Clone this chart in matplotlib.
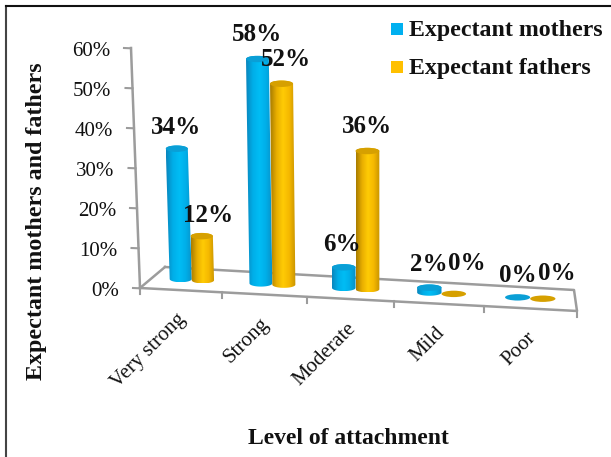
import numpy as np
import matplotlib
matplotlib.use('Agg')
from matplotlib import pyplot as plt
from matplotlib.path import Path
from matplotlib.patches import PathPatch, Ellipse
from matplotlib.colors import LinearSegmentedColormap

categories = ['Very strong', 'Strong', 'Moderate', 'Mild', 'Poor']
mothers = [34, 58, 6, 2, 0]
fathers = [12, 52, 36, 0, 0]
y_ticks = [0, 10, 20, 30, 40, 50, 60]

plt.rcParams['font.family'] = ['Liberation Serif', 'DejaVu Serif']

AXIS_GREY = '#9c9c9c'
TEXT_BLACK = '#111111'

blue_map = LinearSegmentedColormap.from_list('blue_bar', ['#0a86bd', '#00aee8', '#00bdf5', '#00aee8', '#0a8fc6'])
gold_map = LinearSegmentedColormap.from_list('gold_bar', ['#a87c00', '#e8ae00', '#ffcb05', '#f5b800', '#c79300'])


# Oblique view: the floor runs downhill to the right and verticals lean in on the left
def project(pos, pct, depth=0.0, scale=4.0):
    x_front = 140 + 80.65 * pos + 1.35 * pos ** 2
    x = x_front + depth * (25 - 5.6 * pos)
    y = 288 + (x_front - 140) * 0.0526 - depth * 21
    lean = 0.0375 * max(0, 1 - (x - 140) / 205)
    h = pct * scale
    return x - lean * h, y - h


# Bar tops sit a little under the nominal height, the rounded cap eats into it
def top_of_bar(pos, pct):
    return project(pos, pct - 0.75 if pct > 0 else 0, 0.5, 3.92)


def draw_cylinder(ax, pos, pct, cmap, top_color):
    half_w = 0.14
    x_l0, y_l0 = project(pos - half_w, 0, 0.5)
    x_r0, y_r0 = project(pos + half_w, 0, 0.5)
    x_c0, y_c0 = (x_l0 + x_r0) / 2, (y_l0 + y_r0) / 2
    width = x_r0 - x_l0
    x_ct, y_ct = top_of_bar(pos, pct)
    cap = 3.2

    if pct == 0:
        ax.add_patch(Ellipse((x_c0, y_c0), width, 2 * cap, color=top_color, lw=0, zorder=5 + pos))
        return

    theta = np.linspace(0, np.pi, 30)
    bottom_x = x_c0 - width / 2 * np.cos(theta)
    bottom_y = y_c0 + cap * np.sin(theta)
    top_x = x_ct + width / 2 * np.cos(theta)
    top_y = y_ct + cap * np.sin(-theta)
    outline = np.column_stack([np.r_[bottom_x, top_x], np.r_[bottom_y, top_y]])
    body = PathPatch(Path(outline, closed=False), fc='none', ec='none')
    ax.add_patch(body)

    gradient = np.linspace(0, 1, 64).reshape(1, -1)
    x0, x1 = outline[:, 0].min(), outline[:, 0].max()
    y0, y1 = outline[:, 1].min(), outline[:, 1].max()
    img = ax.imshow(gradient, cmap=cmap, extent=(x0, x1, y1, y0), aspect='auto', zorder=5 + pos)
    img.set_clip_path(body)
    ax.add_patch(Ellipse((x_ct, y_ct), width, 2 * cap, color=top_color, lw=0, zorder=5.1 + pos))


fig = plt.figure(figsize=(6.11, 4.57), dpi=100)
ax = fig.add_axes([0, 0, 1, 1])

# Walls of the floor and the value axis
fl = [project(0, 0), project(5, 0), project(5, 0, 1), project(0, 0, 1)]
ax.plot(*zip(*fl), color=AXIS_GREY, lw=1.8, zorder=1)
ax.plot(*zip(fl[0], fl[3]), color=AXIS_GREY, lw=1.8, zorder=1)
ax.plot(*zip(project(0, 0), project(0, 60)), color=AXIS_GREY, lw=1.8, zorder=2)

for tick in y_ticks:
    x, y = project(0, tick)
    ax.plot([x - 7, x], [y, y + 0.3], color=AXIS_GREY, lw=1.5, zorder=2)
    ax.text(x - 21, y + 3, f'{tick}%', ha='right', va='center', fontsize=15, color=TEXT_BLACK)

for i in range(6):
    x, y = project(i, 0)
    ax.plot([x, x], [y, y + 6], color=AXIS_GREY, lw=1.5, zorder=2)

for i, name in enumerate(categories):
    x, y = project(i + 0.5, 0)
    ax.text(x - 4, y + 20, name, rotation=45, rotation_mode='anchor', ha='right', va='top',
            fontsize=15, color=TEXT_BLACK)

# Bars with their value labels
for i in range(len(categories)):
    draw_cylinder(ax, i + 0.36, mothers[i], blue_map, '#0a9fd6')
    draw_cylinder(ax, i + 0.64, fathers[i], gold_map, '#d6a000')

mother_offsets = [(-1, -21), (0, -24), (-2, -23), (-1, -23), (0, -22)]
father_offsets = [(6, -21), (4, -24), (0, -25), (13, -30), (14, -25)]
for i in range(len(categories)):
    x, y = top_of_bar(i + 0.36, mothers[i])
    ax.text(x + mother_offsets[i][0], y + mother_offsets[i][1], f'{mothers[i]}%', ha='center', va='center',
            fontsize=18, fontweight='bold', color=TEXT_BLACK, zorder=20)
    x, y = top_of_bar(i + 0.64, fathers[i])
    ax.text(x + father_offsets[i][0], y + father_offsets[i][1], f'{fathers[i]}%', ha='center', va='center',
            fontsize=18, fontweight='bold', color=TEXT_BLACK, zorder=20)

# Legend
ax.add_patch(plt.Rectangle((391, 23), 12, 12, fc='#00b0f0', ec='none'))
ax.add_patch(plt.Rectangle((391, 61), 12, 12, fc='#ffc000', ec='none'))
ax.text(409, 30.5, 'Expectant mothers', va='center', fontsize=17.2, fontweight='bold', color=TEXT_BLACK)
ax.text(409, 68.5, 'Expectant fathers', va='center', fontsize=17.2, fontweight='bold', color=TEXT_BLACK)

# Axis titles
ax.text(37, 221, 'Expectant mothers and fathers', rotation=90, ha='center', va='center',
        fontsize=17.3, fontweight='bold', color=TEXT_BLACK)
ax.text(348, 439, 'Level of attachment', ha='center', va='center', fontsize=17, fontweight='bold',
        color=TEXT_BLACK)

# Chart frame
ax.plot([6, 6], [457, 6], color='#444444', lw=1.5)
ax.plot([6, 611], [6, 6], color='#111111', lw=1.5)

ax.set_xlim(0, 611)
ax.set_ylim(457, 0)
ax.axis('off')
fig.savefig('out.png', dpi=100)
